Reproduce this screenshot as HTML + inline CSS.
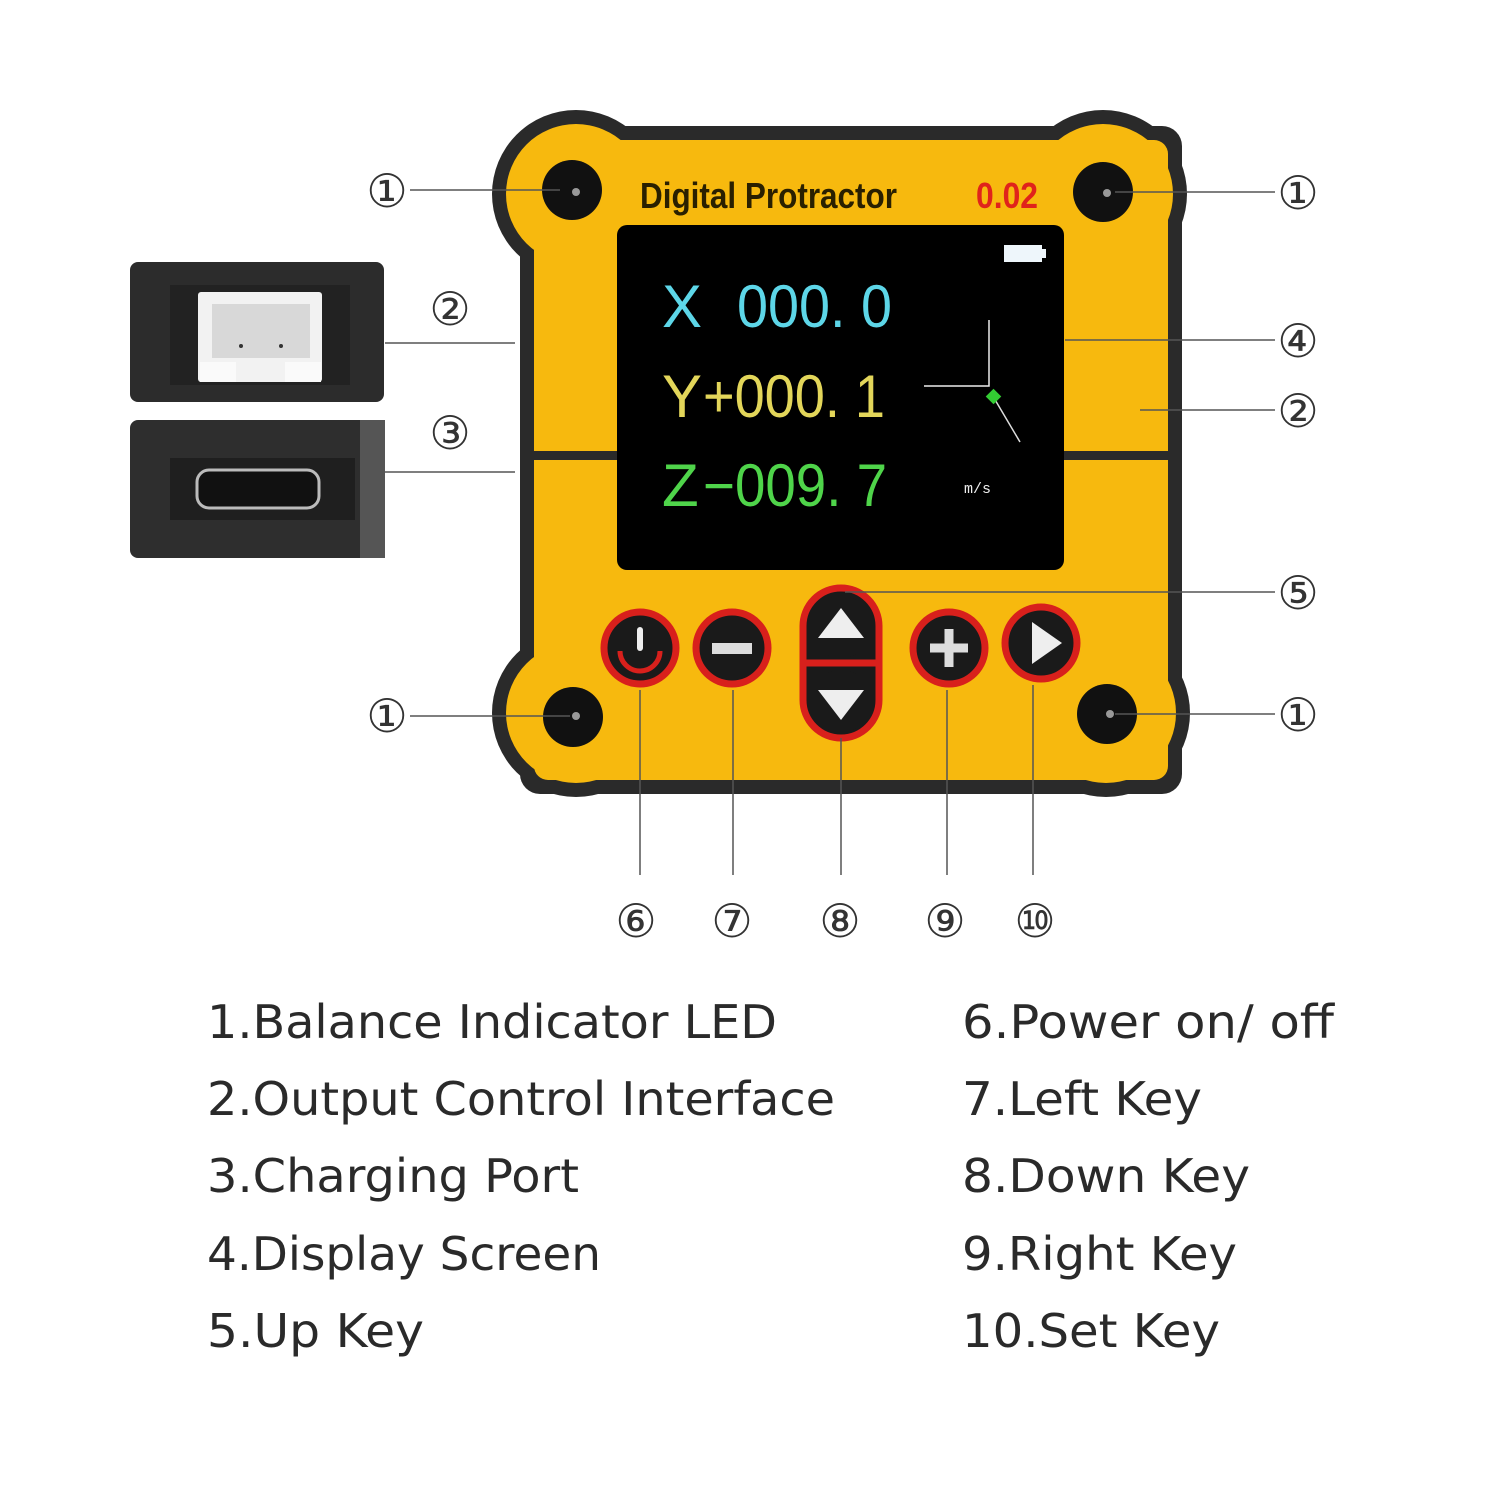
<!DOCTYPE html>
<html><head><meta charset="utf-8"><style>html,body{margin:0;padding:0;background:#fff}svg{display:block}</style></head>
<body>
<svg width="1500" height="1500" viewBox="0 0 1500 1500" xmlns="http://www.w3.org/2000/svg">
<rect width="1500" height="1500" fill="#fff"/>
<!-- connector images -->
<rect x="130" y="262" width="254" height="140" rx="8" fill="#2c2c2c"/>
<rect x="170" y="285" width="180" height="100" fill="#222"/>
<rect x="198" y="292" width="124" height="90" rx="3" fill="#f2f2f2"/>
<rect x="212" y="304" width="98" height="54" fill="#d8d8d8"/>
<rect x="200" y="362" width="36" height="20" fill="#fafafa"/>
<rect x="285" y="362" width="36" height="20" fill="#fafafa"/>
<circle cx="241" cy="346" r="2" fill="#333"/><circle cx="281" cy="346" r="2" fill="#333"/>
<rect x="130" y="420" width="255" height="138" rx="8" fill="#2e2e2e"/>
<rect x="360" y="420" width="25" height="138" fill="#555"/>
<rect x="170" y="458" width="185" height="62" fill="#1f1f1f"/>
<rect x="197" y="470" width="122" height="38" rx="12" fill="#111" stroke="#bbb" stroke-width="3"/>
<!-- device body -->
<g fill="#2a2a2a">
<circle cx="576" cy="194" r="84"/><circle cx="1103" cy="194" r="84"/>
<circle cx="576" cy="713" r="84"/><circle cx="1106" cy="713" r="84"/>
<rect x="520" y="126" width="662" height="668" rx="20"/>
</g>
<g fill="#f7b90e">
<circle cx="576" cy="194" r="70"/><circle cx="1103" cy="194" r="70"/>
<circle cx="576" cy="713" r="70"/><circle cx="1106" cy="713" r="70"/>
<rect x="534" y="140" width="634" height="640" rx="14"/>
</g>
<rect x="522" y="451" width="660" height="9" fill="#2a2a2a"/>
<rect x="617" y="225" width="447" height="345" rx="10" fill="#000"/>
<!-- screws -->
<g fill="#111"><circle cx="572" cy="190" r="30"/><circle cx="1103" cy="192" r="30"/><circle cx="573" cy="717" r="30"/><circle cx="1107" cy="714" r="30"/></g>
<g fill="#999"><circle cx="576" cy="192" r="4"/><circle cx="1107" cy="193" r="4"/><circle cx="576" cy="716" r="4"/><circle cx="1110" cy="714" r="4"/></g>
<text x="640" y="208" font-family="Liberation Sans, sans-serif" font-weight="bold" font-size="36" fill="#2a2000" textLength="257" lengthAdjust="spacingAndGlyphs">Digital Protractor</text>
<text x="976" y="208" font-family="Liberation Sans, sans-serif" font-weight="bold" font-size="36" fill="#e0231b" textLength="62" lengthAdjust="spacingAndGlyphs">0.02</text>
<!-- screen -->
<rect x="1004" y="245" width="38" height="17" fill="#eef6fb"/><rect x="1042" y="249" width="4" height="9" fill="#eef6fb"/>
<g font-family="Liberation Sans, sans-serif" font-size="60">
<text x="662" y="327" fill="#5dd6e8">X</text>
<text x="737" y="327" fill="#5dd6e8" textLength="155" lengthAdjust="spacingAndGlyphs">000. 0</text>
<text x="662" y="417" fill="#e3d65a">Y</text>
<text x="703" y="417" fill="#e3d65a" textLength="182" lengthAdjust="spacingAndGlyphs">+000. 1</text>
<text x="662" y="506" fill="#4fd44a">Z</text>
<text x="703" y="506" fill="#4fd44a" textLength="184" lengthAdjust="spacingAndGlyphs">−009. 7</text>
</g>
<path d="M989 320V386H924" stroke="#eee" stroke-width="1.5" fill="none"/>
<path d="M994 398L1020 442" stroke="#ddd" stroke-width="1.5"/>
<rect x="988" y="391" width="11" height="11" fill="#3c3" transform="rotate(45 993.5 396.5)"/>
<text x="964" y="493" font-family="Liberation Mono, monospace" font-size="15" fill="#eee">m/s</text>
<!-- buttons -->
<g stroke="#d8201c" stroke-width="7" fill="#1a1a1a">
<circle cx="640" cy="648" r="36"/><circle cx="732" cy="648" r="36"/>
<circle cx="949" cy="648" r="36"/><circle cx="1041" cy="643" r="36"/>
<rect x="803" y="588" width="76" height="150" rx="38"/>
</g>
<line x1="806" y1="663" x2="876" y2="663" stroke="#d8201c" stroke-width="7"/>
<circle cx="841" cy="627" r="31" fill="#1a1a1a"/><circle cx="841" cy="701" r="31" fill="#1a1a1a"/>
<path d="M640 630v18" stroke="#eee" stroke-width="6" stroke-linecap="round"/>
<path d="M620 651a20 20 0 0 0 40 0" stroke="#d8201c" stroke-width="5" fill="none"/>
<rect x="712" y="643" width="40" height="11" fill="#ddd"/>
<path d="M949 629v38M930 648h38" stroke="#ddd" stroke-width="9"/>
<path d="M1032 622v42l30-21z" fill="#eee"/>
<path d="M818 638h46l-23-30z" fill="#eee"/>
<path d="M818 690h46l-23 30z" fill="#eee"/>
<!-- callout lines -->
<g stroke="#555" stroke-width="1.5">
<line x1="410" y1="190" x2="560" y2="190"/><line x1="1115" y1="192" x2="1275" y2="192"/>
<line x1="410" y1="716" x2="570" y2="716"/><line x1="1115" y1="714" x2="1275" y2="714"/>
<line x1="385" y1="343" x2="515" y2="343"/><line x1="385" y1="472" x2="515" y2="472"/>
<line x1="1065" y1="340" x2="1275" y2="340"/><line x1="1140" y1="410" x2="1275" y2="410"/>
<line x1="845" y1="592" x2="1275" y2="592"/>
<line x1="640" y1="690" x2="640" y2="875"/><line x1="733" y1="690" x2="733" y2="875"/>
<line x1="841" y1="738" x2="841" y2="875"/><line x1="947" y1="690" x2="947" y2="875"/>
<line x1="1033" y1="685" x2="1033" y2="875"/>
</g>
<g font-family="DejaVu Sans, sans-serif" font-size="46" fill="#333" text-anchor="middle">
<text x="387" y="207">①</text><text x="1298" y="209">①</text>
<text x="387" y="732">①</text><text x="1298" y="731">①</text>
<text x="450" y="325">②</text><text x="450" y="449">③</text>
<text x="1298" y="357">④</text><text x="1298" y="427">②</text>
<text x="1298" y="609">⑤</text>
<text x="636" y="937">⑥</text><text x="732" y="937">⑦</text><text x="840" y="937">⑧</text>
<text x="945" y="937">⑨</text><text x="1035" y="937">⑩</text>
</g>
<!-- legend -->
<g font-family="DejaVu Sans, sans-serif" font-size="46" fill="#2a2a2a" lengthAdjust="spacingAndGlyphs">
<text x="207" y="1038" textLength="570" lengthAdjust="spacingAndGlyphs">1.Balance Indicator LED</text>
<text x="207" y="1115" textLength="628" lengthAdjust="spacingAndGlyphs">2.Output Control Interface</text>
<text x="207" y="1192" textLength="372" lengthAdjust="spacingAndGlyphs">3.Charging Port</text>
<text x="207" y="1270" textLength="394" lengthAdjust="spacingAndGlyphs">4.Display Screen</text>
<text x="207" y="1347" textLength="217" lengthAdjust="spacingAndGlyphs">5.Up Key</text>
<text x="962" y="1038" textLength="372" lengthAdjust="spacingAndGlyphs">6.Power on/ off</text>
<text x="962" y="1115" textLength="240" lengthAdjust="spacingAndGlyphs">7.Left Key</text>
<text x="962" y="1192" textLength="288" lengthAdjust="spacingAndGlyphs">8.Down Key</text>
<text x="962" y="1270" textLength="275" lengthAdjust="spacingAndGlyphs">9.Right Key</text>
<text x="962" y="1347" textLength="258" lengthAdjust="spacingAndGlyphs">10.Set Key</text>
</g>
</svg>
</body></html>
